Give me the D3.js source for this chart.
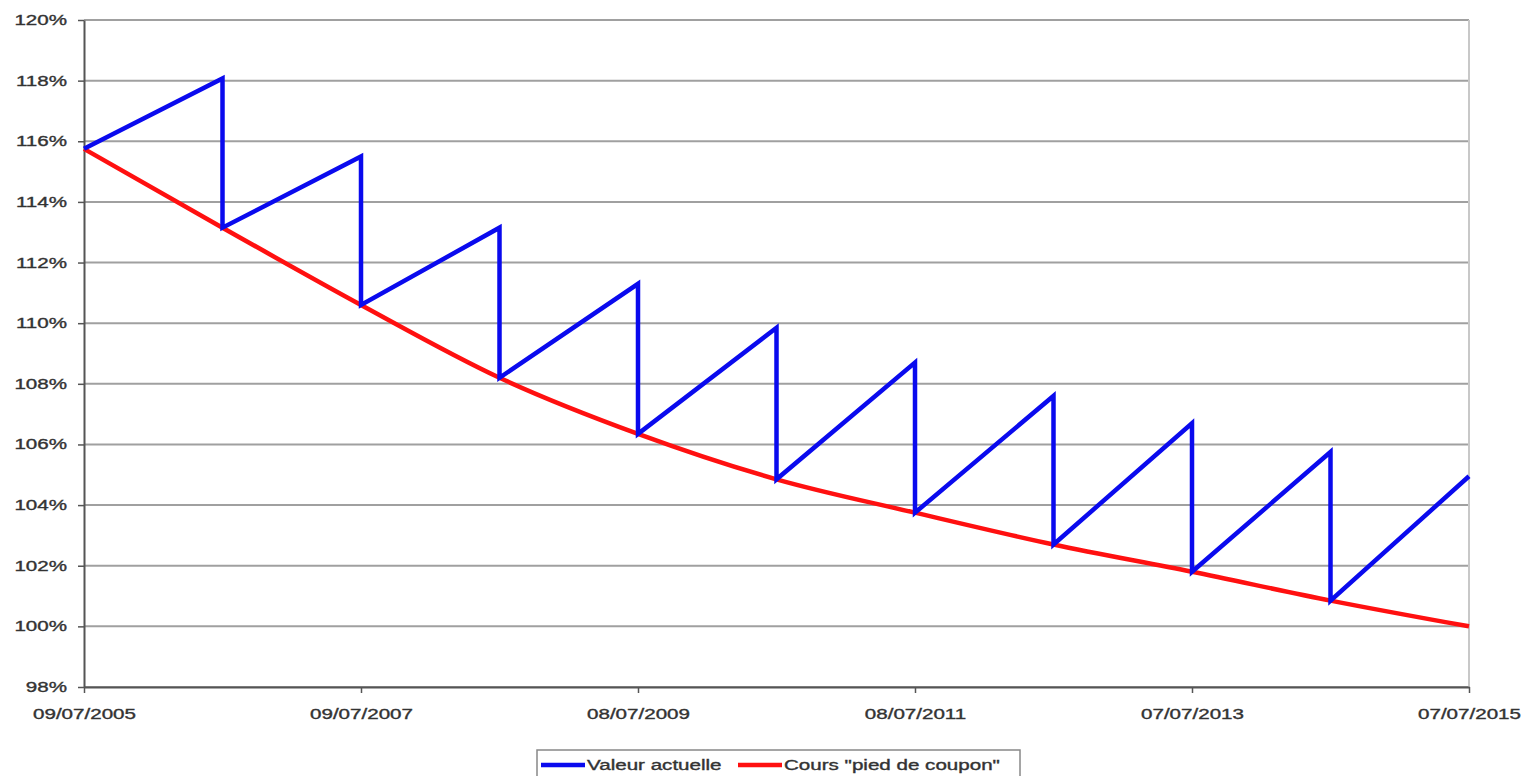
<!DOCTYPE html>
<html>
<head>
<meta charset="utf-8">
<script src="https://cdn.jsdelivr.net/npm/d3@7"></script>
<style>
  html, body { margin: 0; padding: 0; background: #ffffff; }
  svg { display: block; }
  text { font-family: "Liberation Sans", Arial, sans-serif; }
</style>
</head>
<body>
<svg id="chart" width="1532" height="776"></svg>
<script>
// ---- data ----
const couponDates = ["09/07/2005", "09/07/2006", "09/07/2007", "08/07/2008", "08/07/2009",
                     "08/07/2010", "08/07/2011", "07/07/2012", "07/07/2013", "07/07/2014", "07/07/2015"];
// Value just before the coupon is detached (Valeur actuelle, peaks); first = start value
const valeurAvantCoupon = [115.75, 118.07, 115.5, 113.15, 111.3, 109.85, 108.7, 107.6, 106.7, 105.75, 104.95];
// Ex-coupon price ("pied de coupon") at each date
const coursPiedCoupon = [115.75, 113.15, 110.6, 108.2, 106.35, 104.85, 103.75, 102.7, 101.8, 100.85, 100.0];
const xTickLabels = ["09/07/2005", "09/07/2007", "08/07/2009", "08/07/2011", "07/07/2013", "07/07/2015"];
const yTickValues = [98, 100, 102, 104, 106, 108, 110, 112, 114, 116, 118, 120];
const seriesNames = ["Valeur actuelle", "Cours \"pied de coupon\""];

// ---- setup ----
const parse = d3.timeParse("%d/%m/%Y");
const fmt = d3.timeFormat("%d/%m/%Y");
const dates = couponDates.map(parse);
const SX = 1.47; // horizontal stretch of the reference lettering

const svg = d3.select("#chart");
const m = { left: 84, right: 1469, top: 20, bottom: 687 };

const x = d3.scaleTime().domain([dates[0], dates[dates.length - 1]]).range([m.left, m.right]);
const y = d3.scaleLinear().domain([98, 120]).range([m.bottom, m.top]);

// gridlines
svg.append("g")
  .selectAll("line")
  .data(yTickValues)
  .join("line")
  .attr("x1", m.left).attr("x2", m.right)
  .attr("y1", d => y(d)).attr("y2", d => y(d))
  .attr("stroke", "#a0a0a0").attr("stroke-width", 2);

// right border of plot area
svg.append("line")
  .attr("x1", m.right).attr("x2", m.right)
  .attr("y1", m.top).attr("y2", m.bottom)
  .attr("stroke", "#c8c8c8").attr("stroke-width", 2);

// y axis
const yAxis = d3.axisLeft(y).tickValues(yTickValues).tickSize(6).tickSizeOuter(0)
  .tickFormat(d => d + "%");
const gy = svg.append("g").attr("transform", `translate(${m.left},0)`).call(yAxis);
gy.select(".domain").attr("stroke", "#555").attr("stroke-width", 2);
gy.selectAll(".tick line").attr("stroke", "#555").attr("stroke-width", 1.5);
gy.selectAll(".tick text")
  .attr("x", 0)
  .attr("transform", `translate(-17,0) scale(${SX},1)`)
  .attr("font-size", 14).attr("fill", "#333")
  .attr("stroke", "#333").attr("stroke-width", 0.35)
  .attr("font-family", "'Liberation Sans', Arial, sans-serif");

// x axis
const xAxis = d3.axisBottom(x).tickValues(xTickLabels.map(parse)).tickSize(6).tickSizeOuter(0)
  .tickFormat(fmt);
const gx = svg.append("g").attr("transform", `translate(0,${m.bottom})`).call(xAxis);
gx.select(".domain").attr("stroke", "#555").attr("stroke-width", 2);
gx.selectAll(".tick line").attr("stroke", "#555").attr("stroke-width", 1.5);
gx.selectAll(".tick text")
  .attr("y", 0)
  .attr("transform", `translate(0,22) scale(${SX},1)`)
  .attr("font-size", 14).attr("fill", "#333")
  .attr("stroke", "#333").attr("stroke-width", 0.35)
  .attr("font-family", "'Liberation Sans', Arial, sans-serif");

// red series (ex-coupon price), smooth
const redPts = dates.map((d, i) => [d, coursPiedCoupon[i]]);
svg.append("path")
  .datum(redPts)
  .attr("fill", "none")
  .attr("stroke", "#ff1010")
  .attr("stroke-width", 4.5)
  .attr("stroke-linejoin", "round")
  .attr("d", d3.line().x(d => x(d[0])).y(d => y(d[1])).curve(d3.curveMonotoneX));

// blue series: sawtooth — rises to peak, drops to ex-coupon price at each date
const bluePts = [[dates[0], valeurAvantCoupon[0]]];
for (let i = 1; i < dates.length; i++) {
  bluePts.push([dates[i], valeurAvantCoupon[i]]);
  if (i < dates.length - 1) bluePts.push([dates[i], coursPiedCoupon[i]]);
}
svg.append("path")
  .datum(bluePts)
  .attr("fill", "none")
  .attr("stroke", "#0a0aee")
  .attr("stroke-width", 4.5)
  .attr("stroke-linejoin", "miter")
  .attr("d", d3.line().x(d => x(d[0])).y(d => y(d[1])));

// legend
const lg = svg.append("g");
lg.append("rect")
  .attr("x", 537).attr("y", 750).attr("width", 483).attr("height", 40)
  .attr("fill", "#fff").attr("stroke", "#888").attr("stroke-width", 1.5);
const legendColors = ["#0a0aee", "#ff1010"];
const legendX = [541, 738];
seriesNames.forEach((name, i) => {
  lg.append("line")
    .attr("x1", legendX[i]).attr("x2", legendX[i] + 44)
    .attr("y1", 765).attr("y2", 765)
    .attr("stroke", legendColors[i]).attr("stroke-width", 4.5);
  lg.append("text")
    .attr("transform", `translate(${legendX[i] + 46},770) scale(${SX},1)`)
    .attr("font-size", 14).attr("fill", "#333")
    .attr("stroke", "#333").attr("stroke-width", 0.35)
    .text(name);
});
</script>
</body>
</html>
